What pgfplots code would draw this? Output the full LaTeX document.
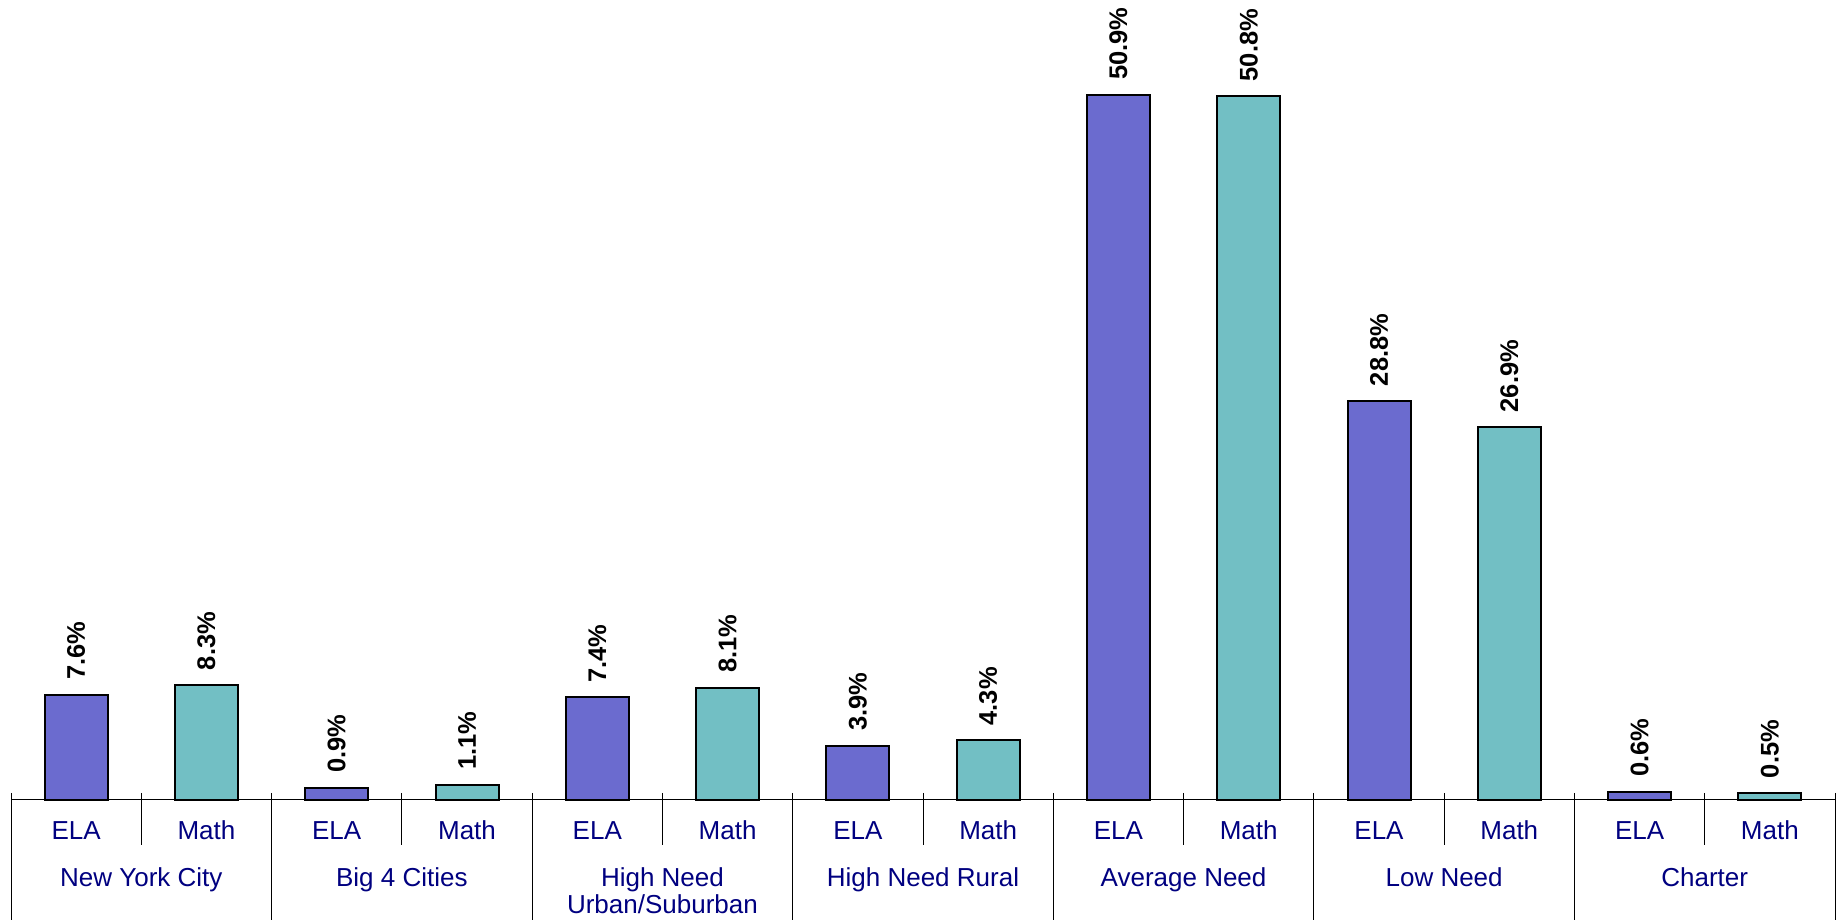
\documentclass[border=0pt]{standalone}
\usepackage{pgfplots}
\pgfplotsset{compat=1.18}
\usepackage{fontspec}
\setmainfont{Liberation Sans}
\definecolor{elac}{HTML}{6B6BCF}
\definecolor{mathc}{HTML}{72BFC4}
\definecolor{labc}{HTML}{000080}
\tikzset{
  longsep/.style={line width=0.4pt},
  lab/.style={anchor=base, text=labc, font=\fontsize{10.4}{12}\selectfont, inner sep=0pt},
}
\begin{document}
\begin{tikzpicture}
\begin{axis}[
  at={(0,0)}, anchor=south west,
  scale only axis,
  width=729.6pt, height=320pt,
  xmin=-0.5, xmax=13.5, ymin=0, ymax=57.75,
  hide axis, clip=false,
  ybar, bar width=25.2pt, bar shift=0pt,
  every axis plot/.append style={draw=black, line width=0.8pt},
  /pgf/number format/assume math mode=true,
  nodes near coords={\pgfmathprintnumber[fixed,precision=1,fixed zerofill,assume math mode=true]{\pgfplotspointmeta}\%},
  every node near coord/.append style={rotate=90, anchor=west, inner sep=0pt, outer xsep=6pt, outer ysep=0pt,
    font=\fontsize{10.2}{12}\selectfont\bfseries, text=black},
]
\addplot[fill=elac] coordinates {(0,7.6) (2,0.9) (4,7.4) (6,3.9) (8,50.9) (10,28.8) (12,0.6)};
\addplot[fill=mathc] coordinates {(1,8.3) (3,1.1) (5,8.1) (7,4.3) (9,50.8) (11,26.9) (13,0.5)};
% axis line
\draw[line width=0.4pt] (axis cs:-0.5,0) -- (axis cs:13.5,0);
% group separators
\pgfplotsinvokeforeach{-0.5,1.5,3.5,5.5,7.5,9.5,11.5,13.5}{
  \draw[longsep] ([yshift=2.8pt]axis cs:#1,0) -- ([yshift=-48pt]axis cs:#1,0);
}
% inner separators
\pgfplotsinvokeforeach{0.5,2.5,4.5,6.5,8.5,10.5,12.5}{
  \draw[longsep] ([yshift=2.8pt]axis cs:#1,0) -- ([yshift=-18pt]axis cs:#1,0);
}
\pgfplotsinvokeforeach{0,2,4,6,8,10,12}{
  \node[lab] at ([yshift=-16pt]axis cs:#1,0) {ELA};
}
\pgfplotsinvokeforeach{1,3,5,7,9,11,13}{
  \node[lab] at ([yshift=-16pt]axis cs:#1,0) {Math};
}
\node[lab] at ([yshift=-34.8pt]axis cs:0.5,0) {New York City};
\node[lab] at ([yshift=-34.8pt]axis cs:2.5,0) {Big 4 Cities};
\node[lab] at ([yshift=-34.8pt]axis cs:4.5,0) {High Need};
\node[lab] at ([yshift=-45.5pt]axis cs:4.5,0) {Urban/Suburban};
\node[lab] at ([yshift=-34.8pt]axis cs:6.5,0) {High Need Rural};
\node[lab] at ([yshift=-34.8pt]axis cs:8.5,0) {Average Need};
\node[lab] at ([yshift=-34.8pt]axis cs:10.5,0) {Low Need};
\node[lab] at ([yshift=-34.8pt]axis cs:12.5,0) {Charter};
\end{axis}
\path (-4.4pt,-48pt) rectangle (732pt,320pt);
\end{tikzpicture}
\end{document}
